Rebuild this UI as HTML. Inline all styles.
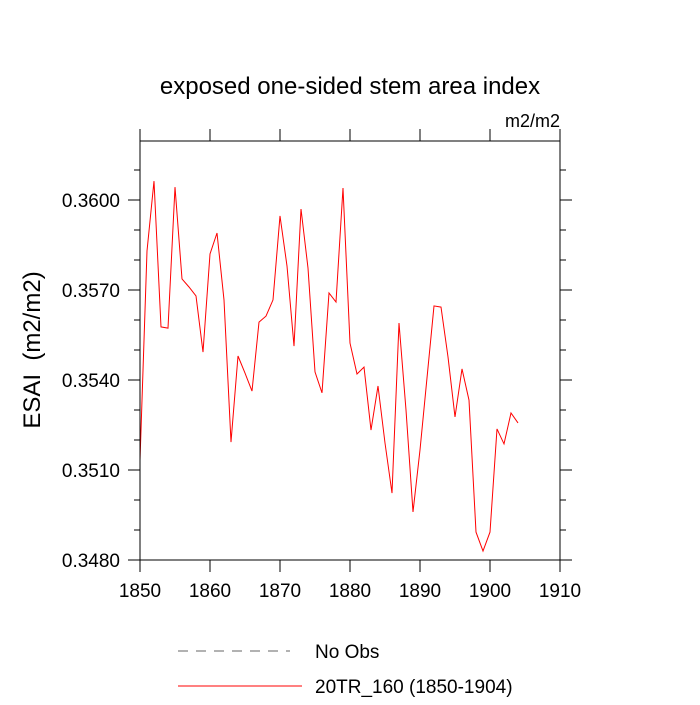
<!DOCTYPE html>
<html><head><meta charset="utf-8"><style>
body{margin:0;background:#fff;}
svg text{font-family:"Liberation Sans",sans-serif;fill:#000;}
</style></head><body>
<svg id="chart" width="700" height="700" xmlns="http://www.w3.org/2000/svg">
<rect width="700" height="700" fill="#fff"/>
<text x="350" y="94" font-size="24" text-anchor="middle">exposed one-sided stem area index</text>
<text x="560" y="127" font-size="18" text-anchor="end">m2/m2</text>
<text transform="translate(40,350) rotate(-90)" font-size="24" text-anchor="middle">ESAI&#160; (m2/m2)</text>
<g id="axes"></g>
<polyline id="series" fill="none" stroke="#ff0000" stroke-width="1"/>
<rect x="140" y="141" width="420" height="419" fill="none" stroke="#000" stroke-width="1"/>
<line x1="178" y1="651" x2="290" y2="651" stroke="#666" stroke-dasharray="10,8"/>
<text x="315" y="658" font-size="19">No Obs</text>
<line x1="178" y1="686" x2="302" y2="686" stroke="#ff0000"/>
<text x="315" y="693" font-size="19">20TR_160 (1850-1904)</text>
</svg>
<script>
const years=[];for(let y=1850;y<=1904;y++)years.push(y);
const esai=[0.35133,0.35830,0.36063,0.35577,0.35573,0.36043,0.35737,0.35710,0.35680,0.35493,
0.35820,0.35890,0.35667,0.35193,0.35480,0.35423,0.35363,0.35593,0.35613,0.35667,
0.35947,0.35780,0.35513,0.35970,0.35773,0.35427,0.35357,0.35690,0.35660,0.36040,
0.35523,0.35420,0.35443,0.35233,0.35380,0.35190,0.35023,0.35590,0.35300,0.34960,
0.35167,0.35407,0.35647,0.35643,0.35477,0.35277,0.35437,0.35333,0.34893,0.34830,
0.34893,0.35237,0.35187,0.35290,0.35257];
const xTicks=[1850,1860,1870,1880,1890,1900,1910];
const yTicks=[0.3480,0.3510,0.3540,0.3570,0.3600];
const yMinor=[0.3490,0.3500,0.3520,0.3530,0.3550,0.3560,0.3580,0.3590,0.3610];
const X=v=>140+(v-1850)*7;
const Y=v=>560-(v-0.3480)*30000;
const ns="http://www.w3.org/2000/svg";
const ax=document.getElementById('axes');
function ln(x1,y1,x2,y2,name){const l=document.createElementNS(ns,'line');
l.setAttribute('x1',x1);l.setAttribute('y1',y1);l.setAttribute('x2',x2);l.setAttribute('y2',y2);
l.setAttribute('stroke','#000');


ax.appendChild(l);}
function tx(x,y,s,anchor,name){const t=document.createElementNS(ns,'text');
t.setAttribute('x',x);t.setAttribute('y',y);t.setAttribute('font-size','19');t.setAttribute('text-anchor',anchor);t.textContent=s;


ax.appendChild(t);}
xTicks.forEach(v=>{const x=X(v);ln(x,560,x,572,'x-tick');ln(x,141,x,129,'x-tick-top');tx(x,597,String(v),'middle','x-tick-label');});
yTicks.forEach(v=>{const y=Y(v);ln(140,y,128,y,'y-tick');ln(560,y,572,y,'y-tick-right');tx(120,y+7,v.toFixed(4),'end','y-tick-label');});
yMinor.forEach(v=>{const y=Y(v);ln(140,y,134,y,'y-minor-tick');ln(560,y,566,y,'y-minor-tick-right');});
document.getElementById('series').setAttribute('points',years.map((yr,i)=>X(yr)+','+Y(esai[i])).join(' '));
</script>
</body></html>
